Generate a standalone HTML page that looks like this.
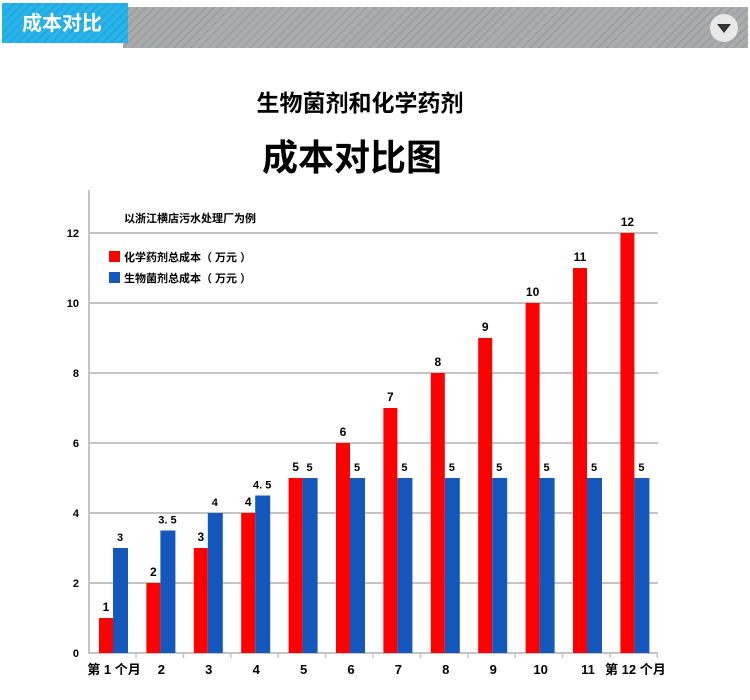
<!DOCTYPE html>
<html><head><meta charset="utf-8"><style>
html,body{margin:0;padding:0;background:#fff;}
body{width:750px;height:700px;overflow:hidden;position:relative;font-family:"Liberation Sans","Noto Sans CJK SC",sans-serif;}
</style></head><body>
<svg width="750" height="700" xmlns="http://www.w3.org/2000/svg" style="position:absolute;left:0;top:0" font-family="Liberation Sans, Noto Sans CJK SC, sans-serif">
<defs>
<pattern id="hg" width="6" height="6" patternUnits="userSpaceOnUse" patternTransform="rotate(45)">
<rect width="6" height="6" fill="#a9abad"/><rect width="1.5" height="6" fill="#9c9ea0"/></pattern>
<pattern id="hb" width="6" height="6" patternUnits="userSpaceOnUse" patternTransform="rotate(45)">
<rect width="6" height="6" fill="#29b3e8"/><rect width="1.5" height="6" fill="#1fa6db"/></pattern>
</defs>
<rect x="123" y="7" width="625" height="41" fill="url(#hg)"/>
<rect x="2" y="3" width="126" height="40" fill="url(#hb)"/>
<text x="62" y="30" font-size="20" font-weight="bold" fill="#fff" text-anchor="middle">成本对比</text>
<ellipse cx="724" cy="28" rx="14" ry="14" fill="#e8e8e8"/>
<polygon points="717,24 731,24 724,33" fill="#333"/>
<text x="360" y="111" font-size="23" font-weight="bold" text-anchor="middle">生物菌剂和化学药剂</text>
<text x="352" y="170" font-size="36" font-weight="bold" text-anchor="middle">成本对比图</text>
<g stroke="#c4c4c4" stroke-width="2">
<line x1="89" y1="190" x2="89" y2="654"/>
<line x1="89" y1="653" x2="658" y2="653"/>
<line x1="89" y1="583" x2="658" y2="583"/>
<line x1="89" y1="513" x2="658" y2="513"/>
<line x1="89" y1="443" x2="658" y2="443"/>
<line x1="89" y1="373" x2="658" y2="373"/>
<line x1="89" y1="303" x2="658" y2="303"/>
<line x1="89" y1="233" x2="658" y2="233"/>
</g>
<g font-size="11" font-weight="bold" text-anchor="end">
<text x="79" y="657">0</text><text x="79" y="587">2</text><text x="79" y="517">4</text>
<text x="79" y="447">6</text><text x="79" y="377">8</text><text x="79" y="307">10</text><text x="79" y="237">12</text>
</g>
<text x="124" y="222" font-size="11" font-weight="bold">以浙江横店污水处理厂为例</text>
<rect x="109" y="251" width="11" height="11" fill="#ff0000"/>
<text x="124" y="261" font-size="11" font-weight="bold">化学药剂总成本（ 万元 ）</text>
<rect x="109" y="272" width="11" height="11" fill="#1457bd"/>
<text x="124" y="282" font-size="11" font-weight="bold">生物菌剂总成本（ 万元 ）</text>
<g id="bars"></g>
</svg>
<script>
var g=document.getElementById('bars'),ns='http://www.w3.org/2000/svg';
var blue=[3,3.5,4,4.5,5,5,5,5,5,5,5,5],bl=['3','3. 5','4','4. 5','5','5','5','5','5','5','5','5'];
var xl=['第 1 个月','2','3','4','5','6','7','8','9','10','11','第 12 个月'];
function el(t,a,txt){var e=document.createElementNS(ns,t);for(var k in a)e.setAttribute(k,a[k]);if(txt!=null)e.textContent=txt;g.appendChild(e);}
for(var i=0;i<12;i++){
var x=99+47.4*i,r=i+1;
el('rect',{x:x,y:653-35*r,width:14,height:35*r,fill:'#ff0000'});
el('rect',{x:x+14,y:653-35*blue[i],width:15,height:35*blue[i],fill:'#1457bd'});
el('text',{x:x+7,y:653-35*r-7,'font-size':12,'font-weight':'bold','text-anchor':'middle'},String(r));
el('text',{x:x+21,y:653-35*blue[i]-7,'font-size':11,'font-weight':'bold','text-anchor':'middle'},bl[i]);
el('line',{x1:x+37,y1:653,x2:x+37,y2:658,stroke:'#c4c4c4','stroke-width':1.5});
el('text',{x:x+15,y:674,'font-size':13,'font-weight':'bold','text-anchor':'middle'},xl[i]);
}
</script>
</body></html>
